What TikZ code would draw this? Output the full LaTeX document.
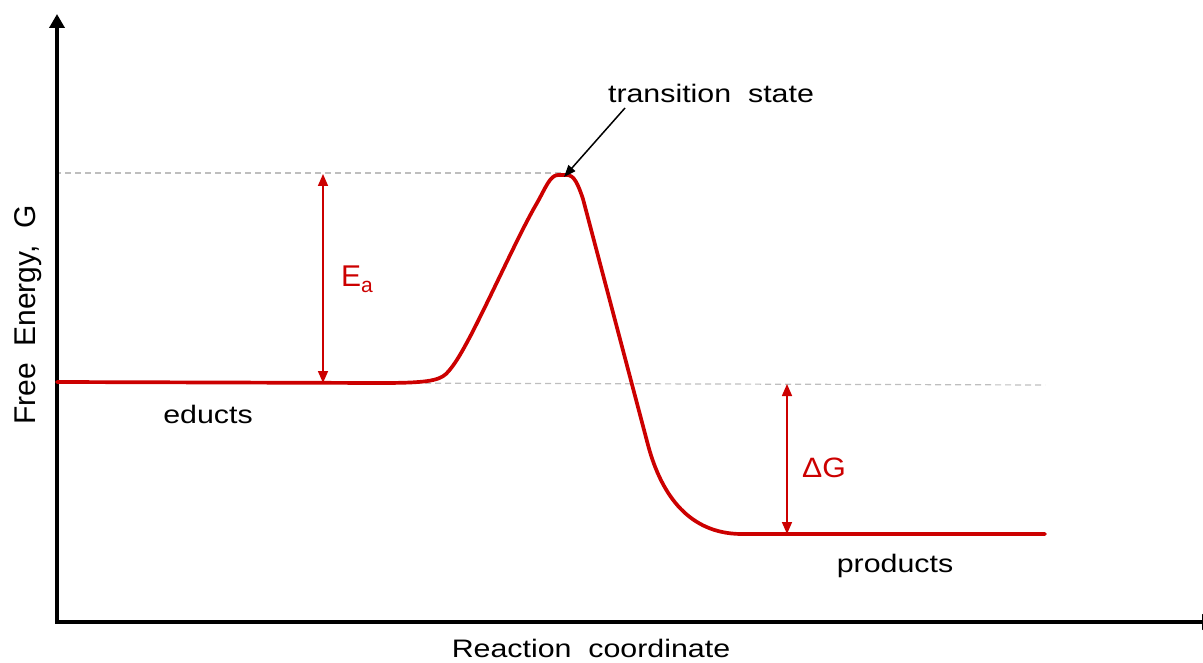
\documentclass[tikz,border=0pt]{standalone}
\usepackage{fontspec}
\setmainfont{Liberation Sans}[FakeStretch=1.2]
\newfontfamily\plainsans{Liberation Sans}
\newfontfamily\midsans{Liberation Sans}[FakeStretch=1.08]
\usetikzlibrary{arrows.meta}
\definecolor{cred}{RGB}{204,0,0}
\definecolor{cgray}{RGB}{190,190,190}
\tikzset{
  axis/.style={line width=3.5pt, -{Triangle[width=15pt,length=14pt]}},
  curve/.style={cred, line width=3.7pt, line cap=round, line join=round},
  guide/.style={cgray, line width=1.2pt, dash pattern=on 6pt off 4pt},
  dimarrow/.style={cred, line width=1.6pt, {Triangle[width=10pt,length=12pt]}-{Triangle[width=10pt,length=12pt]}},
  lbl/.style={font=\fontsize{25.3}{30}\selectfont, inner sep=0pt, anchor=base},
  redlbl/.style={text=cred, inner sep=0pt, anchor=base west},
}
\begin{document}
\begin{tikzpicture}[x=1pt,y=-1pt]
\useasboundingbox (0,0) rectangle (1203,663);
\clip (0,0) rectangle (1203,663);
% guide lines
\coordinate (gtl) at (55,173);
\coordinate (gtr) at (563,173);
\coordinate (gbl) at (375,383);
\coordinate (gbr) at (1045,385);
\draw[guide] (gtl) -- (gtr);
\draw[guide] (gbl) -- (gbr);
% axes
\coordinate (origin) at (57,622);
\coordinate (ytop) at (57,14);
\coordinate (xend) at (1216,622);
\draw[axis] (origin) -- (ytop);
\draw[axis] ([xshift=-2pt]origin) -- (xend);
% curve
\coordinate (e0) at (57,382);
\coordinate (peak) at (563,175);
\coordinate (p1) at (1045,534);
\draw[curve] (e0) -- (380,383)
  .. controls (425,383) and (438,381) .. (446,374)
  .. controls (455,365) and (463,350) .. (472,333)
  .. controls (495,288) and (520,232) .. (537,203)
  .. controls (545,189) and (550,175) .. (558,175)
  -- (567,175)
  .. controls (574,175) and (578,184) .. (583,199)
  -- (648,445)
  .. controls (662,497) and (690,533) .. (740,534)
  -- (p1);
% Ea arrow
\coordinate (eat) at (323,174);
\coordinate (eab) at (323,383);
\draw[dimarrow] (eat) -- (eab);
\node[redlbl, font=\plainsans\fontsize{30}{34}\selectfont] (ea) at (341,287) {E\raisebox{-6pt}{\fontsize{21}{24}\selectfont a}};
% Delta G arrow
\coordinate (dgt) at (787,384);
\coordinate (dgb) at (787,534);
\draw[dimarrow] (dgt) -- (dgb);
\node[redlbl, font=\midsans\fontsize{28}{32}\selectfont] (dg) at (802,477) {ΔG};
% labels
\node[lbl] (ts) at (711,103) {transition\ \ state};
\draw[line width=1.5pt, -{Triangle[width=9pt,length=12pt]}] (625,108) -- ([xshift=1pt,yshift=-2pt]peak);
\node[lbl] (educts) at (208,423) {educts};
\node[lbl] (products) at (895,572) {products};
\node[font=\plainsans\fontsize{30}{34}\selectfont, inner sep=0pt, rotate=90, anchor=base] (ylab) at (35,315) {Free\ \ Energy,\ \ G};
\node[lbl] (xlab) at (591,657) {Reaction\ \ coordinate};
\end{tikzpicture}
\end{document}
